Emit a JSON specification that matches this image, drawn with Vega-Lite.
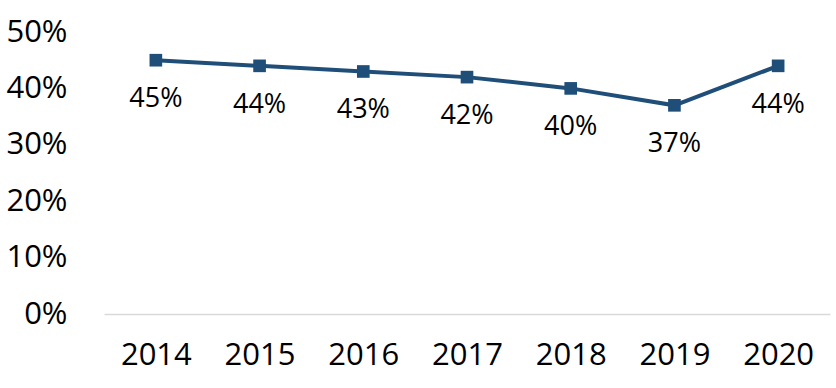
{
  "$schema": "https://vega.github.io/schema/vega-lite/v6.json",
  "width": 726,
  "height": 282,
  "autosize": {"type": "none"},
  "padding": {"left": 104, "top": 32, "right": 6, "bottom": 74},
  "background": "white",
  "config": {"view": {"stroke": null}, "font": "Open Sans"},
  "data": {"values": [
    {"year": "2014", "value": 0.45},
    {"year": "2015", "value": 0.44},
    {"year": "2016", "value": 0.43},
    {"year": "2017", "value": 0.42},
    {"year": "2018", "value": 0.40},
    {"year": "2019", "value": 0.37},
    {"year": "2020", "value": 0.44}
  ]},
  "encoding": {
    "x": {"field": "year", "type": "ordinal", "scale": {"type": "point", "padding": 0.5},
      "axis": {"title": null, "labelAngle": 0, "labelFontSize": 31, "labelColor": "#000000", "labelPadding": 26, "ticks": false, "domainColor": "#d9d9d9", "domainWidth": 1.5, "labelFont": "Open Sans"}},
    "y": {"field": "value", "type": "quantitative", "scale": {"domain": [0, 0.5]},
      "axis": {"title": null, "format": ".0%", "values": [0, 0.1, 0.2, 0.3, 0.4, 0.5], "labelFontSize": 31, "labelColor": "#000000", "labelPadding": 37, "ticks": false, "domain": false, "grid": false, "labelFont": "Open Sans"}}
  },
  "layer": [
    {"mark": {"type": "line", "color": "#1f4e79", "strokeWidth": 4}},
    {"mark": {"type": "point", "shape": "square", "filled": true, "color": "#1f4e79", "size": 160, "opacity": 1}},
    {"mark": {"type": "text", "fontSize": 27, "dy": 39, "color": "#000000", "font": "Open Sans"},
      "encoding": {"text": {"field": "value", "type": "quantitative", "format": ".0%"}}}
  ]
}
